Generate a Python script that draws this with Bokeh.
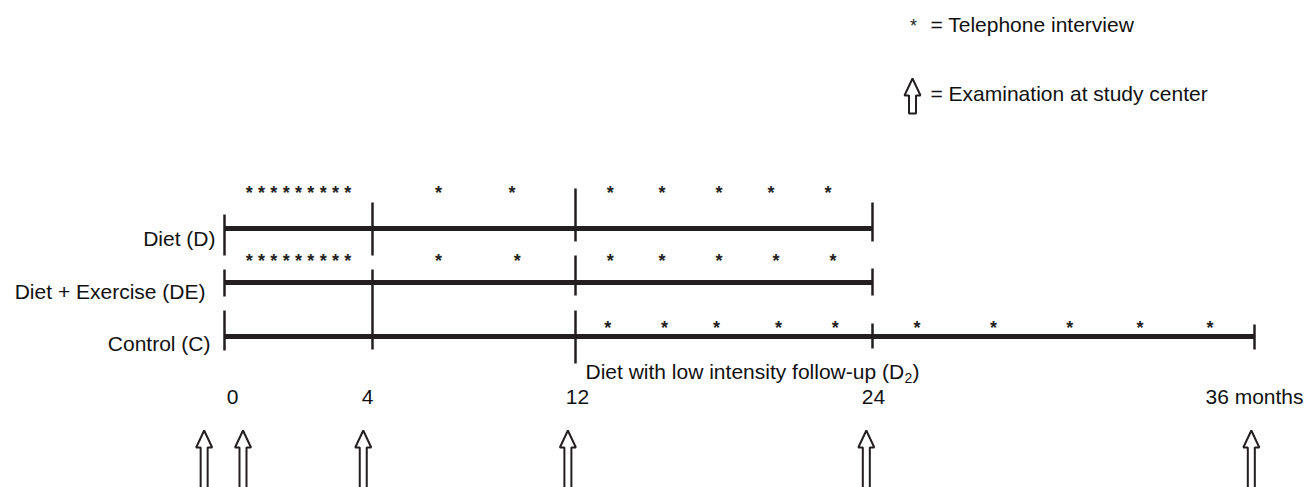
import numpy as np
from bokeh.plotting import figure
from bokeh.models import Range1d, ColumnDataSource
from bokeh.core.properties import value
from bokeh.embed import file_html
from bokeh.resources import INLINE

# ---------------- data ----------------
ROW_LABELS = ["Diet (D)", "Diet + Exercise (DE)", "Control (C)"]
ROW_END_MONTH = [24, 24, 36]
ROW_DIVIDERS = [[0, 4, 12, 24], [0, 4, 12, 24], [0, 12, 24, 36]]

PHONE_D = [0.67, 1.0, 1.33, 1.67, 2.0, 2.33, 2.67, 3.0, 3.33,
           6.6, 9.5, 13.4, 15.5, 17.8, 19.9, 22.2]
PHONE_DE = [0.67, 1.0, 1.33, 1.67, 2.0, 2.33, 2.67, 3.0, 3.33,
            6.6, 9.7, 13.4, 15.5, 17.8, 20.1, 22.4]
PHONE_C = [13.3, 15.6, 17.7, 20.2, 22.5, 25.4, 27.8, 30.2, 32.4, 34.6]

EXAM_MONTHS = [-0.55, 0.5, 3.75, 11.7, 23.75, 35.9]

TICK_MONTHS = [0, 4, 12, 24, 36]
TICK_LABELS = ["0", "4", "12", "24", "36 months"]

D2_TEXT = "Diet with low intensity follow-up (D"
D2_SUB = "2"
D2_CLOSE = ")"
LEGEND_PHONE = "= Telephone interview"
LEGEND_EXAM = "= Examination at study center"

# ---------------- layout / scale ----------------
W, H = 1306, 487
MONTH_ANCHORS = np.array([0, 4, 12, 24, 36], dtype=float)
PX_ANCHORS = np.array([0, 148, 351, 648, 1030], dtype=float)
X0 = 224  # pixel position of month 0 in the frame


def mx(m):
    m = np.asarray(m, dtype=float)
    out = np.interp(m, MONTH_ANCHORS, PX_ANCHORS)
    s0 = (PX_ANCHORS[1] - PX_ANCHORS[0]) / (MONTH_ANCHORS[1] - MONTH_ANCHORS[0])
    s1 = (PX_ANCHORS[-1] - PX_ANCHORS[-2]) / (MONTH_ANCHORS[-1] - MONTH_ANCHORS[-2])
    out = np.where(m < MONTH_ANCHORS[0], PX_ANCHORS[0] + (m - MONTH_ANCHORS[0]) * s0, out)
    out = np.where(m > MONTH_ANCHORS[-1], PX_ANCHORS[-1] + (m - MONTH_ANCHORS[-1]) * s1, out)
    return out


ROW_Y = [228, 282, 336]
STAR_DY = [-40, -26, -13]
LABEL_DX = [-9, -19, -14]
LABEL_DY = [10, 9, 7]
DIV_EXT = [
    {0: (-14, 27), 4: (-26, 27), 12: (-40, 13), 24: (-26, 13)},
    {0: (-13, 14), 4: (-13, 67), 12: (-27, 13), 24: (-14, 13)},
    {0: (-26, 14), 12: (-26, 27), 24: (-13, 12), 36: (-12, 13)},
]
TICK_DX = [8, -5, 2, 1, 0]
TICK_Y = 396
ARROW_TIP_Y = 430
INK = "#231f20"
TXT = "#111111"
FONT = value("Liberation Sans")

p = figure(width=W, height=H, output_backend="svg", toolbar_location=None,
           x_range=Range1d(-X0, W - X0), y_range=Range1d(H, 0),
           min_border=0, outline_line_color=None)
p.axis.visible = False
p.grid.visible = False
p.background_fill_color = "white"
p.border_fill_color = "white"

# horizontal bars
p.segment(x0=mx([0, 0, 0]), x1=mx(ROW_END_MONTH), y0=ROW_Y, y1=ROW_Y,
          line_width=5, line_color=INK)

# vertical dividers
vx, vy0, vy1 = [], [], []
for r, divs in enumerate(ROW_DIVIDERS):
    for m in divs:
        t, b = DIV_EXT[r][m]
        vx.append(float(mx(m)))
        vy0.append(ROW_Y[r] + t)
        vy1.append(ROW_Y[r] + b)
p.segment(x0=vx, x1=vx, y0=vy0, y1=vy1, line_width=2.5, line_color=INK)

# telephone interviews
for r, phones in enumerate([PHONE_D, PHONE_DE, PHONE_C]):
    src = ColumnDataSource(dict(x=mx(phones), y=[ROW_Y[r] + STAR_DY[r]] * len(phones),
                                t=["*"] * len(phones)))
    p.text(x="x", y="y", text="t", source=src, text_font=FONT,
           text_font_size="18px", text_font_style="bold", text_color=INK,
           text_align="center", text_baseline="middle", y_offset=4)

# row labels
p.text(x=[float(mx(0)) + d for d in LABEL_DX], y=[y + d for y, d in zip(ROW_Y, LABEL_DY)],
       text=ROW_LABELS, text_font=FONT, text_font_size="21px", text_color=TXT,
       text_align="right", text_baseline="middle")

# tick labels
p.text(x=[float(mx(m)) + d for m, d in zip(TICK_MONTHS, TICK_DX)], y=[TICK_Y] * len(TICK_MONTHS),
       text=TICK_LABELS, text_font=FONT, text_font_size="21px", text_color=TXT,
       text_align="center", text_baseline="middle")

# D2 label
d2x = float(mx(12)) + 10
p.text(x=[d2x], y=[371], text=[D2_TEXT], text_font=FONT, text_font_size="21px",
       text_color=TXT, text_align="left", text_baseline="middle")
p.text(x=[d2x + 319], y=[377], text=[D2_SUB], text_font=FONT, text_font_size="14px",
       text_color=TXT, text_align="left", text_baseline="middle")
p.text(x=[d2x + 327], y=[371], text=[D2_CLOSE], text_font=FONT, text_font_size="21px",
       text_color=TXT, text_align="left", text_baseline="middle")


def arrow(cx, tip, length):
    xs = [cx, cx + 8, cx + 3.5, cx + 3.5, cx - 3.5, cx - 3.5, cx - 8]
    ys = [tip, tip + 17, tip + 17, tip + length, tip + length, tip + 17, tip + 17]
    return xs, ys


axs, ays = [], []
for m in EXAM_MONTHS:
    xs, ys = arrow(float(mx(m)), ARROW_TIP_Y, 70)
    axs.append(xs)
    ays.append(ys)
lx, ly = arrow(912 - X0, 78, 35)
axs.append(lx)
ays.append(ly)
p.patches(xs=axs, ys=ays, fill_color="white", line_color=INK, line_width=2)

# legend
p.text(x=[913 - X0], y=[21], text=["*"], text_font=FONT, text_font_size="18px",
       text_color=INK, text_align="center", text_baseline="middle", y_offset=4)
p.text(x=[930 - X0, 930 - X0], y=[24, 93], text=[LEGEND_PHONE, LEGEND_EXAM], text_font=FONT,
       text_font_size="21px", text_color=TXT, text_align="left", text_baseline="middle")

open("out.html", "w").write(file_html(p, INLINE))
